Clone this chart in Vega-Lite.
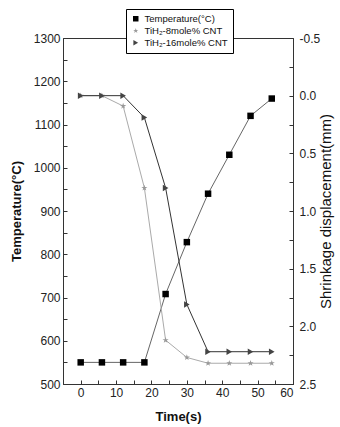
{
  "$schema": "https://vega.github.io/schema/vega-lite/v6.json",
  "width": 230,
  "height": 346,
  "autosize": "none",
  "padding": {"left": 63, "top": 38, "right": 47, "bottom": 43},
  "background": "white",
  "config": {
    "font": "Liberation Sans",
    "view": {"stroke": "#333", "strokeWidth": 1},
    "axis": {
      "domainColor": "#333",
      "tickColor": "#333",
      "labelColor": "#222",
      "titleColor": "#111",
      "labelFont": "Liberation Sans",
      "titleFont": "Liberation Sans",
      "labelFontSize": 12,
      "titleFontSize": 13,
      "titleFontWeight": "bold",
      "grid": false,
      "tickSize": -4,
      "labelPadding": 7,
      "labelOverlap": false
    },
    "legend": {
      "orient": "none",
      "legendX": 63,
      "legendY": -29,
      "strokeColor": "#000000",
      "fillColor": "#ffffff",
      "strokeWidth": 1,
      "padding": 5,
      "labelFontSize": 9.5,
      "symbolSize": 30,
      "rowPadding": 1,
      "labelFont": "Liberation Sans",
      "labelColor": "#111",
      "zindex": 1
    }
  },
  "data": {
    "values": [
      {"t": 0, "s": "Temperature(°C)", "temp": 550},
      {"t": 6, "s": "Temperature(°C)", "temp": 550},
      {"t": 12, "s": "Temperature(°C)", "temp": 550},
      {"t": 18, "s": "Temperature(°C)", "temp": 550},
      {"t": 24, "s": "Temperature(°C)", "temp": 708},
      {"t": 30, "s": "Temperature(°C)", "temp": 828},
      {"t": 36, "s": "Temperature(°C)", "temp": 940},
      {"t": 42, "s": "Temperature(°C)", "temp": 1030},
      {"t": 48, "s": "Temperature(°C)", "temp": 1120},
      {"t": 54, "s": "Temperature(°C)", "temp": 1160},
      {"t": 0, "s": "TiH₂-8mole% CNT", "shr": 0.0},
      {"t": 6, "s": "TiH₂-8mole% CNT", "shr": 0.0},
      {"t": 12, "s": "TiH₂-8mole% CNT", "shr": 0.09},
      {"t": 18, "s": "TiH₂-8mole% CNT", "shr": 0.8},
      {"t": 24, "s": "TiH₂-8mole% CNT", "shr": 2.12},
      {"t": 30, "s": "TiH₂-8mole% CNT", "shr": 2.27},
      {"t": 36, "s": "TiH₂-8mole% CNT", "shr": 2.32},
      {"t": 42, "s": "TiH₂-8mole% CNT", "shr": 2.32},
      {"t": 48, "s": "TiH₂-8mole% CNT", "shr": 2.32},
      {"t": 54, "s": "TiH₂-8mole% CNT", "shr": 2.32},
      {"t": 0, "s": "TiH₂-16mole% CNT", "shr": 0.0},
      {"t": 6, "s": "TiH₂-16mole% CNT", "shr": 0.0},
      {"t": 12, "s": "TiH₂-16mole% CNT", "shr": 0.0},
      {"t": 18, "s": "TiH₂-16mole% CNT", "shr": 0.19},
      {"t": 24, "s": "TiH₂-16mole% CNT", "shr": 0.8},
      {"t": 30, "s": "TiH₂-16mole% CNT", "shr": 1.81},
      {"t": 36, "s": "TiH₂-16mole% CNT", "shr": 2.22},
      {"t": 42, "s": "TiH₂-16mole% CNT", "shr": 2.22},
      {"t": 48, "s": "TiH₂-16mole% CNT", "shr": 2.22},
      {"t": 54, "s": "TiH₂-16mole% CNT", "shr": 2.22}
    ]
  },
  "encoding": {
    "x": {
      "field": "t",
      "type": "quantitative",
      "scale": {"domain": [-5, 60], "nice": false, "zero": false},
      "axis": {
        "title": "Time(s)",
        "values": [0, 5, 10, 15, 20, 25, 30, 35, 40, 45, 50, 55, 60],
        "labelExpr": "datum.value % 10 === 0 ? datum.label : ''",
        "titlePadding": 12
      }
    }
  },
  "layer": [
    {
      "transform": [{"filter": "datum.s === 'Temperature(°C)'"}],
      "encoding": {
        "y": {
          "field": "temp",
          "type": "quantitative",
          "scale": {"domain": [500, 1300], "nice": false, "zero": false},
          "axis": {
            "title": "Temperature(°C)",
            "orient": "left",
            "values": [500, 550, 600, 650, 700, 750, 800, 850, 900, 950, 1000, 1050, 1100, 1150, 1200, 1250, 1300],
            "labelExpr": "datum.value % 100 === 0 ? format(datum.value, 'd') : ''",
            "titlePadding": 10
          }
        }
      },
      "layer": [
        {
          "mark": {"type": "line", "strokeWidth": 1, "color": "#666666"}
        },
        {
          "mark": {"type": "point", "filled": true, "size": 42, "opacity": 1},
          "encoding": {
            "color": {
              "field": "s",
              "type": "nominal",
              "scale": {"domain": ["Temperature(°C)", "TiH₂-8mole% CNT", "TiH₂-16mole% CNT"], "range": ["#000000", "#999999", "#444444"]},
              "legend": {"title": null}
            },
            "shape": {
              "field": "s",
              "type": "nominal",
              "scale": {"domain": ["Temperature(°C)", "TiH₂-8mole% CNT", "TiH₂-16mole% CNT"], "range": ["square", "M0,-1L0.2245,-0.309L0.951,-0.309L0.363,0.118L0.588,0.809L0,0.382L-0.588,0.809L-0.363,0.118L-0.951,-0.309L-0.2245,-0.309Z", "triangle-right"]},
              "legend": {"title": null}
            }
          }
        }
      ]
    },
    {
      "transform": [{"filter": "datum.s !== 'Temperature(°C)'"}],
      "encoding": {
        "y": {
          "field": "shr",
          "type": "quantitative",
          "scale": {"domain": [-0.5, 2.5], "nice": false, "zero": false, "reverse": true},
          "axis": {
            "title": "Shrinkage displacement(mm)",
            "orient": "right",
            "titleAngle": -90,
            "titleFontWeight": "normal",
            "titleFontSize": 15,
            "labelPadding": 10,
            "values": [-0.5, -0.25, 0, 0.25, 0.5, 0.75, 1, 1.25, 1.5, 1.75, 2, 2.25, 2.5],
            "labelExpr": "abs(datum.value * 2 - round(datum.value * 2)) < 0.001 ? replace(format(datum.value, '.1f'), '−', '-') : ''",
            "titlePadding": 14
          }
        }
      },
      "layer": [
        {
          "transform": [{"filter": "datum.s === 'TiH₂-8mole% CNT'"}],
          "mark": {"type": "line", "strokeWidth": 1, "color": "#aaaaaa"}
        },
        {
          "transform": [{"filter": "datum.s === 'TiH₂-16mole% CNT'"}],
          "mark": {"type": "line", "strokeWidth": 1, "color": "#333333"}
        },
        {
          "mark": {"type": "point", "filled": true, "size": 42, "opacity": 1},
          "encoding": {
            "color": {
              "field": "s",
              "type": "nominal",
              "scale": {"domain": ["Temperature(°C)", "TiH₂-8mole% CNT", "TiH₂-16mole% CNT"], "range": ["#000000", "#999999", "#444444"]},
              "legend": {"title": null}
            },
            "shape": {
              "field": "s",
              "type": "nominal",
              "scale": {"domain": ["Temperature(°C)", "TiH₂-8mole% CNT", "TiH₂-16mole% CNT"], "range": ["square", "M0,-1L0.2245,-0.309L0.951,-0.309L0.363,0.118L0.588,0.809L0,0.382L-0.588,0.809L-0.363,0.118L-0.951,-0.309L-0.2245,-0.309Z", "triangle-right"]},
              "legend": {"title": null}
            }
          }
        }
      ]
    }
  ],
  "resolve": {"scale": {"y": "independent"}}
}
